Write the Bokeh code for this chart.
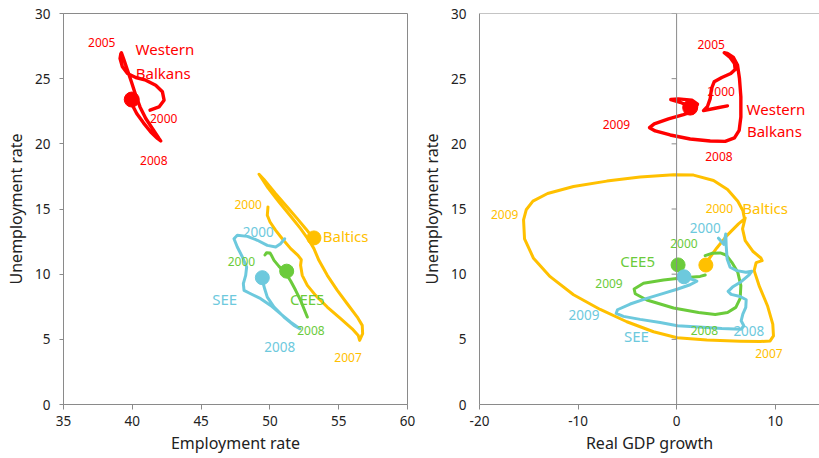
import numpy as np
from bokeh.plotting import figure
from bokeh.layouts import row
from bokeh.models import Range1d, Span, FixedTicker
from bokeh.core.properties import value
from bokeh.embed import file_html
from bokeh.resources import INLINE

# ---------------- data: left panel (employment rate vs unemployment rate) ----------------
wb_emp = [41.29, 41.94, 42.31, 42.19, 41.70, 40.98, 40.25, 39.65, 39.28, 39.11, 39.16, 39.21,
          39.40, 39.65, 39.94, 40.25, 40.56, 40.98, 41.46, 41.94, 42.07, 41.83, 41.34, 40.81,
          40.32, 40.01, 39.84]
wb_unemp = [22.58, 22.83, 23.35, 23.99, 24.50, 24.88, 25.09, 25.40, 25.91, 26.55, 26.88, 26.98,
            26.42, 25.65, 24.75, 23.73, 22.83, 21.94, 21.18, 20.41, 20.22, 20.41, 20.91, 21.61,
            22.33, 22.96, 23.33]

bal_emp = [49.86, 49.81, 50.01, 50.42, 50.90, 51.51, 52.04, 52.28, 52.23, 52.35, 52.72, 53.32,
           54.17, 55.14, 55.98, 56.42, 56.52, 56.74, 56.71, 56.35, 55.62, 54.90, 54.17, 53.56,
           53.20, 52.84, 52.23, 51.51, 50.66, 49.86, 49.21, 49.57, 50.42, 51.26, 51.99, 52.60,
           53.08]
bal_unemp = [15.16, 14.52, 14.00, 13.36, 12.72, 11.96, 11.44, 11.11, 10.68, 9.91, 9.14, 8.37,
             7.48, 6.58, 5.81, 5.30, 4.92, 5.43, 6.07, 6.71, 7.73, 8.76, 9.91, 11.06,
             11.96, 12.60, 13.49, 14.44, 15.54, 16.62, 17.67, 17.26, 16.18, 15.16, 14.26, 13.49,
             12.85]

see_emp = [51.07, 50.78, 50.42, 49.81, 49.09, 48.36, 47.63, 47.39, 47.63, 48.00, 48.31, 48.24,
           48.07, 48.12, 48.60, 49.33, 50.05, 50.78, 51.51, 52.18, 51.75, 51.02, 50.30, 49.81,
           49.62, 49.47]
see_unemp = [12.72, 12.34, 12.08, 12.21, 12.60, 12.90, 12.98, 12.72, 12.08, 11.32, 10.55, 9.91,
             9.27, 8.76, 8.50, 8.12, 7.60, 6.96, 6.32, 5.81, 6.07, 6.71, 7.48, 8.24,
             8.88, 9.47]

cee_emp = [49.64, 49.76, 50.01, 50.15, 50.30, 50.66, 51.14, 51.51, 51.87, 52.23, 52.72]
cee_unemp = [11.47, 11.65, 11.62, 11.37, 11.06, 10.60, 10.09, 9.47, 8.76, 7.99, 6.71]

dot_emp = [39.96, 53.20, 49.45, 51.22]          # WB, Baltics, SEE, CEE5
dot_emp_unemp = [23.40, 12.78, 9.73, 10.23]

# ---------------- data: right panel (real GDP growth vs unemployment rate) ----------------
wb_gdp = [5.16, 3.91, 2.73, 3.14, 3.41, 3.54, 3.81, 4.59, 5.50, 5.94, 5.87, 5.43, 4.83, 5.16,
          5.77, 6.18, 6.38, 6.52, 6.52, 6.35, 5.87, 4.93, 3.41, 1.38, -0.65, -2.17, -2.75,
          -2.27, -0.82, 0.70, 1.78, 2.12, 1.55, 0.19, -0.59, 0.36, 1.31]
wb_unemp2 = [22.91, 22.73, 22.55, 22.88, 23.47, 24.24, 24.76, 25.09, 25.40, 25.71, 26.17, 26.63,
             26.99, 26.94, 26.63, 26.04, 25.01, 23.60, 22.06, 21.04, 20.45, 20.19, 20.22, 20.37,
             20.68, 20.99, 21.24, 21.53, 21.91, 22.24, 22.53, 23.04, 23.35, 23.45, 23.40, 23.19,
             22.88]

bal_gdp = [6.96, 6.69, 6.96, 7.73, 8.55, 8.68, 8.07, 7.87, 8.41, 9.22, 9.76, 9.83, 9.49, 8.48,
           6.45, 3.07, 0.06, -2.34, -5.05, -7.75, -10.46, -12.83, -14.52, -15.43, -15.53,
           -15.26, -14.58, -13.09, -10.46, -7.08, -3.70, -0.31, 1.72, 3.75, 5.17, 6.21, 6.72,
           6.89, 6.28, 5.10, 4.08, 3.34, 2.97]
bal_unemp2 = [14.32, 13.47, 12.58, 11.76, 11.24, 11.04, 10.88, 10.27, 9.04, 7.58, 6.17, 5.27,
              4.88, 4.83, 4.86, 4.94, 5.12, 5.58, 6.35, 7.29, 8.42, 9.81, 11.22, 12.71, 14.17,
              14.94, 15.60, 16.19, 16.73, 17.14, 17.45, 17.63, 17.60, 17.19, 16.50, 15.60, 14.88,
              14.24, 13.86, 12.96, 12.01, 11.24, 10.78]

cee_gdp = [2.90, 3.57, 4.42, 5.02, 5.60, 6.21, 6.52, 6.45, 6.01, 5.17, 3.92, 2.23, -0.31, -3.02,
           -4.20, -4.31, -3.36, -1.33, 0.70, 2.39, 2.90]
cee_unemp2 = [11.42, 11.60, 11.63, 11.47, 10.91, 10.14, 9.12, 8.14, 7.45, 7.06, 6.91, 7.06, 7.40,
              8.02, 8.50, 8.86, 9.30, 9.55, 9.72, 9.83, 9.94]

see_gdp = [4.25, 4.79, 4.99, 5.03, 5.13, 5.43, 6.11, 7.02, 7.63, 7.36, 6.55, 5.67, 5.23, 5.53,
           6.45, 7.06, 7.02, 6.72, 6.55, 6.82, 6.55, 4.59, 2.22, 0.09, -1.67, -3.70, -5.39,
           -6.13, -6.00, -4.71, -3.02, -1.33, 0.12, 1.37, 2.05, 1.48, 0.87]
see_unemp2 = [12.76, 12.29, 13.09, 12.19, 11.17, 10.53, 10.27, 10.14, 10.22, 9.94, 9.42, 9.01,
              8.68, 8.45, 8.29, 8.04, 7.45, 6.94, 6.42, 6.04, 5.78, 5.83, 5.94, 6.04, 6.29,
              6.53, 6.76, 6.99, 7.27, 7.71, 8.14, 8.53, 8.86, 9.19, 9.47, 9.63, 9.68]

dot_gdp = [1.38, 2.97, 0.75, 0.15]              # WB, Baltics, SEE, CEE5
dot_gdp_unemp = [22.78, 10.70, 9.80, 10.71]

series = ["wb", "bal", "see", "cee"]

# ---------------- labels ----------------
left_lbl_text = ["2005", "Western", "Balkans", "2000", "2008", "2000", "Baltics", "2000", "2000",
                 "SEE", "CEE5", "2008", "2008", "2007"]
left_lbl_x = [37.78, 42.37, 42.25, 42.28, 41.56, 48.42, 55.50, 49.15, 47.93, 46.71, 52.72, 52.98,
              50.71, 55.68]
left_lbl_y = [27.80, 27.27, 25.46, 21.97, 18.74, 15.36, 12.90, 13.23, 11.00, 8.06, 8.06, 5.68,
              4.40, 3.63]
left_lbl_series = ["wb", "wb", "wb", "wb", "wb", "bal", "bal", "see", "cee", "see", "cee", "cee",
                   "see", "bal"]

right_lbl_text = ["2005", "Western", "Balkans", "2000", "2009", "2008", "2009", "2000", "Baltics",
                  "2000", "2000", "CEE5", "2009", "2009", "SEE", "2008", "2008", "2007"]
right_lbl_x = [3.51, 10.08, 9.92, 4.52, -6.10, 4.30, -17.44, 4.34, 8.98, 2.90, 0.74, -3.95,
               -6.86, -9.40, -4.08, 2.82, 7.33, 9.37]
right_lbl_y = [27.62, 22.71, 21.02, 23.98, 21.48, 19.02, 14.56, 15.05, 15.06, 13.58, 12.32, 10.98,
               9.25, 6.85, 5.23, 5.65, 5.65, 3.88]
right_lbl_series = ["wb", "wb", "wb", "wb", "wb", "wb", "bal", "bal", "bal", "see", "cee", "cee",
                    "cee", "see", "see", "cee", "see", "bal"]

y_ticks = [0, 5, 10, 15, 20, 25, 30]
x_ticks_left = [35, 40, 45, 50, 55, 60]
x_ticks_right = [-20, -10, 0, 10]
x_tick_text_right = ["-20", "-10", "0", "10"]

# ---------------- styles ----------------
FONT = "Noto Sans"
COLORS = {"wb": "#FF0000", "bal": "#FFC000", "see": "#6DC9DD", "cee": "#6BCB3B"}
WIDTHS = {"wb": 3.4, "bal": 3.0, "see": 3.0, "cee": 3.0}
AXIS = "#8A8A8A"
TXT = "#222222"


def label_size(text, s):
    if not text.isdigit():
        return "15px"
    return "13.5px" if s == "see" else "12px"


def make_fig(width, xr, xticks, xlabel, border_left, border_right, left_tick_out, outline):
    p = figure(width=width, height=458, x_range=Range1d(*xr), y_range=Range1d(0, 30),
               output_backend="svg", toolbar_location=None,
               min_border_left=border_left, min_border_right=border_right,
               min_border_top=13, min_border_bottom=54)
    p.grid.visible = False
    p.background_fill_color = "white"
    p.border_fill_color = "white"
    p.outline_line_color = AXIS if outline else None
    for ax in (p.xaxis[0], p.yaxis[0]):
        ax.axis_line_color = AXIS
        ax.major_tick_line_color = AXIS
        ax.minor_tick_line_color = None
        ax.major_tick_in = 0
        ax.major_label_text_font = FONT
        ax.major_label_text_font_size = "13.5px"
        ax.major_label_text_color = TXT
        ax.axis_label_text_font = FONT
        ax.axis_label_text_font_size = "16px"
        ax.axis_label_text_font_style = "normal"
        ax.axis_label_text_color = TXT
    p.xaxis.ticker = FixedTicker(ticks=xticks)
    p.yaxis.ticker = FixedTicker(ticks=y_ticks)
    p.xaxis.major_tick_out = 5
    p.xaxis.major_label_standoff = 6
    p.xaxis.axis_label_standoff = 3
    p.yaxis.major_tick_out = left_tick_out
    p.yaxis.major_label_standoff = 13 - left_tick_out
    p.yaxis.axis_label_standoff = 5
    p.xaxis.axis_label = xlabel
    p.yaxis.axis_label = "Unemployment rate"
    return p


def draw(p, xs, ys, dx, dy, lt, lx, ly, ls):
    for s in ["bal", "cee", "see", "wb"]:
        i = series.index(s)
        p.line(xs[s], ys[s], line_color=COLORS[s], line_width=WIDTHS[s],
               line_join="round", line_cap="round")
        p.scatter([dx[i]], [dy[i]], size=15 if s == "wb" else 14,
                  fill_color=COLORS[s], line_color=COLORS[s])
    p.text(x=lx, y=ly, text=lt,
           text_color=[COLORS[s] for s in ls],
           text_font_size=[label_size(t, s) for t, s in zip(lt, ls)],
           text_font=value(FONT), text_align="center", text_baseline="middle")


p1 = make_fig(417, (35, 60), x_ticks_left, "Employment rate", 63, 10, 4, True)
draw(p1,
     {"wb": wb_emp, "bal": bal_emp, "see": see_emp, "cee": cee_emp},
     {"wb": wb_unemp, "bal": bal_unemp, "see": see_unemp, "cee": cee_unemp},
     dot_emp, dot_emp_unemp, left_lbl_text, left_lbl_x, left_lbl_y, left_lbl_series)

p2 = make_fig(402, (-20, 14.5), x_ticks_right, "Real GDP growth", 62, 0, 0, False)
p2.xaxis.major_label_overrides = dict(zip(x_ticks_right, x_tick_text_right))
p2.add_layout(Span(location=30, dimension="width", line_color=AXIS, line_width=1))
p2.add_layout(Span(location=0, dimension="height", line_color=AXIS, line_width=1))
p2.ray(x=[0] * len(y_ticks), y=y_ticks, length=5, length_units="screen", angle=np.pi,
       line_color=AXIS, line_width=1)
draw(p2,
     {"wb": wb_gdp, "bal": bal_gdp, "see": see_gdp, "cee": cee_gdp},
     {"wb": wb_unemp2, "bal": bal_unemp2, "see": see_unemp2, "cee": cee_unemp2},
     dot_gdp, dot_gdp_unemp, right_lbl_text, right_lbl_x, right_lbl_y, right_lbl_series)

layout = row(p1, p2)
open("out.html", "w").write(file_html(layout, INLINE))
